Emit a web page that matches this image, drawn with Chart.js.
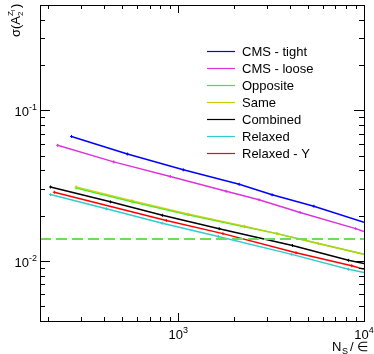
<!DOCTYPE html>
<html>
<head>
<meta charset="utf-8">
<script src="https://cdn.jsdelivr.net/npm/chart.js@4/dist/chart.umd.min.js"></script>
<style>
  html, body { margin: 0; padding: 0; background: #fff; }
</style>
</head>
<body>
<canvas id="sigmaChart" width="374" height="354"></canvas>
<script>
// legend / series names and colours
const legendLabels = ['CMS - tight', 'CMS - loose', 'Opposite', 'Same', 'Combined', 'Relaxed', 'Relaxed - Y'];
const lineColors = ['#0000ff', '#dd33dd', '#33ee33', '#cccc00', '#000000', '#33cccc', '#ff0000'];

// N_S / eps values and sigma(A2)
const tightN = [266, 532, 1064, 2128, 3200, 5370, 10000];
const tightSigma = [0.0671, 0.0513, 0.0403, 0.0323, 0.0275, 0.0231, 0.0181];
const looseN = [224, 449, 906, 1811, 2720, 4529, 9020, 10000];
const looseSigma = [0.0586, 0.0455, 0.0364, 0.0290, 0.0255, 0.0210, 0.0164, 0.0157];
const oppositeN = [282, 564, 1128, 2271, 3395, 5678, 10000];
const oppositeSigma = [0.0305, 0.0247, 0.0203, 0.0169, 0.0152, 0.01307, 0.01107];
const sameN = [282, 564, 1128, 2271, 3395, 5678, 10000];
const sameSigma = [0.0310, 0.0251, 0.0205, 0.0170, 0.0152, 0.01307, 0.01107];
const combinedN = [205, 431, 821, 1661, 4119, 8241, 10000];
const combinedSigma = [0.0310, 0.0247, 0.0201, 0.0164, 0.01268, 0.01011, 0.00963];
const relaxedN = [205, 410, 820, 1641, 4083, 8241, 10000];
const relaxedSigma = [0.0276, 0.0222, 0.0178, 0.01454, 0.01107, 0.00882, 0.00838];
const relaxedYN = [215, 862, 1739, 4307, 8590, 10000];
const relaxedYSigma = [0.0286, 0.0186, 0.0152, 0.01134, 0.00931, 0.00882];

// horizontal reference line
const thresholdN = [180, 10000];
const thresholdSigma = [0.014, 0.014];

// axis ranges and labelled decades
const xRange = [180, 10000];
const yRange = [0.004, 0.5];
const xDecades = [1000, 10000];
const yDecades = [0.01, 0.1];

const FONT = '"Liberation Sans", Arial, sans-serif';

function pts(xs, ys) {
    return xs.map((v, i) => ({ x: v, y: ys[i] }));
}

function series(i, xs, ys) {
    return {
        label: legendLabels[i],
        data: pts(xs, ys),
        showLine: true,
        borderColor: lineColors[i],
        backgroundColor: lineColors[i],
        borderWidth: 1.5,
        pointStyle: 'cross',
        pointRadius: ctx => ctx.dataIndex === xs.length - 1 ? 0 : 1.5,
        pointBorderWidth: 1,
        pointBorderColor: lineColors[i],
        order: 10 - i
    };
}

// ROOT style frame: ticks inside on all four sides, manual power labels
const rootFrame = {
    id: 'rootFrame',
    afterDatasetsDraw(chart) {
        const { ctx, chartArea: a, scales: { x, y } } = chart;
        ctx.save();
        ctx.strokeStyle = '#000';
        ctx.lineWidth = 1;
        ctx.strokeRect(a.left + 0.5, a.top + 0.5, a.right - a.left, a.bottom - a.top);

        const seg = (x1, y1, x2, y2) => {
            ctx.beginPath(); ctx.moveTo(x1, y1); ctx.lineTo(x2, y2); ctx.stroke();
        };

        for (let e = -3; e <= 0; e++) {
            for (let m = 1; m <= 9; m++) {
                const v = m * Math.pow(10, e);
                if (v < y.min * 0.999 || v > y.max * 1.001) continue;
                const py = Math.round(y.getPixelForValue(v)) + 0.5;
                const len = m === 1 ? 10 : 5;
                seg(a.left, py, a.left + len, py);
                seg(a.right, py, a.right - len, py);
            }
        }
        for (let e = 2; e <= 4; e++) {
            for (let m = 1; m <= 9; m++) {
                const v = m * Math.pow(10, e);
                if (v < x.min * 0.999 || v > x.max * 1.001) continue;
                const px = Math.round(x.getPixelForValue(v)) + 0.5;
                const len = m === 1 ? 8 : 4;
                seg(px, a.bottom, px, a.bottom - len);
                seg(px, a.top, px, a.top + len);
            }
        }

        ctx.fillStyle = '#000';
        ctx.textBaseline = 'alphabetic';
        const pow = (base, exp, px, py, align) => {
            ctx.font = '13px ' + FONT;
            const wb = ctx.measureText(base).width;
            ctx.font = '9px ' + FONT;
            const we = ctx.measureText(exp).width;
            const w = wb + we;
            let x0 = align === 'right' ? px - w : px - w / 2;
            ctx.textAlign = 'left';
            ctx.font = '13px ' + FONT;
            ctx.fillText(base, x0, py);
            ctx.font = '9px ' + FONT;
            ctx.fillText(exp, x0 + wb, py - 6);
        };
        yDecades.forEach(v => {
            const py = y.getPixelForValue(v);
            pow('10', String(Math.round(Math.log10(v))), 37, py + 6, 'right');
        });
        xDecades.forEach(v => {
            const px = x.getPixelForValue(v);
            pow('10', String(Math.round(Math.log10(v))), px, 339, 'center');
        });

        // x title: N_S / eps
        ctx.textAlign = 'left';
        ctx.font = '13px ' + FONT;
        ctx.fillText('N', 332, 351);
        ctx.font = '9px ' + FONT;
        ctx.fillText('S', 342, 354);
        ctx.font = '13px ' + FONT;
        ctx.fillText('/ \u2208', 350, 351);

        // y title: sigma(A_2^{Z_l}) rotated
        ctx.save();
        ctx.translate(19.5, 37);
        ctx.rotate(-Math.PI / 2);
        ctx.font = '13px ' + FONT;
        ctx.fillText('\u03c3(A', 0, 0);
        let cx = ctx.measureText('\u03c3(A').width;
        ctx.font = '8px ' + FONT;
        ctx.fillText('2', cx, 3);
        ctx.fillText('Z', cx, -7);
        const wz = ctx.measureText('Z').width;
        ctx.font = '6px ' + FONT;
        ctx.fillText('l', cx + wz, -5);
        ctx.font = '13px ' + FONT;
        ctx.fillText(')', cx + wz + 3, 0);
        ctx.restore();

        // legend
        ctx.font = '13px ' + FONT;
        ctx.textBaseline = 'middle';
        legendLabels.forEach((lab, i) => {
            const ly = 51.5 + i * 17;
            ctx.strokeStyle = lineColors[i];
            ctx.lineWidth = 1.2;
            seg(207, ly, 235, ly);
            ctx.fillStyle = '#000';
            ctx.fillText(lab, 242, ly + 0.5);
        });
        ctx.restore();
    }
};

const ctxSigma = document.getElementById('sigmaChart').getContext('2d');
const sigmaChart = new Chart(ctxSigma, {
    type: 'scatter',
    data: {
        datasets: [
            series(0, tightN, tightSigma),
            series(1, looseN, looseSigma),
            series(2, oppositeN, oppositeSigma),
            Object.assign(series(3, sameN, sameSigma), { borderColor: 'rgba(204,204,0,0.85)' }),
            series(4, combinedN, combinedSigma),
            series(5, relaxedN, relaxedSigma),
            series(6, relaxedYN, relaxedYSigma),
            {
                label: 'threshold',
                data: pts(thresholdN, thresholdSigma),
                showLine: true,
                borderColor: '#6edc5a',
                borderWidth: 2,
                borderDash: [11, 5],
                pointRadius: 0,
                order: 0
            }
        ]
    },
    options: {
        responsive: false,
        animation: false,
        devicePixelRatio: 1,
        layout: { padding: { left: 40, right: 10, top: 3, bottom: 33 } },
        scales: {
            x: { type: 'logarithmic', min: xRange[0], max: xRange[1], display: false },
            y: { type: 'logarithmic', min: yRange[0], max: yRange[1], display: false }
        },
        plugins: {
            legend: { display: false },
            tooltip: { enabled: false }
        }
    },
    plugins: [rootFrame]
});
</script>
</body>
</html>
